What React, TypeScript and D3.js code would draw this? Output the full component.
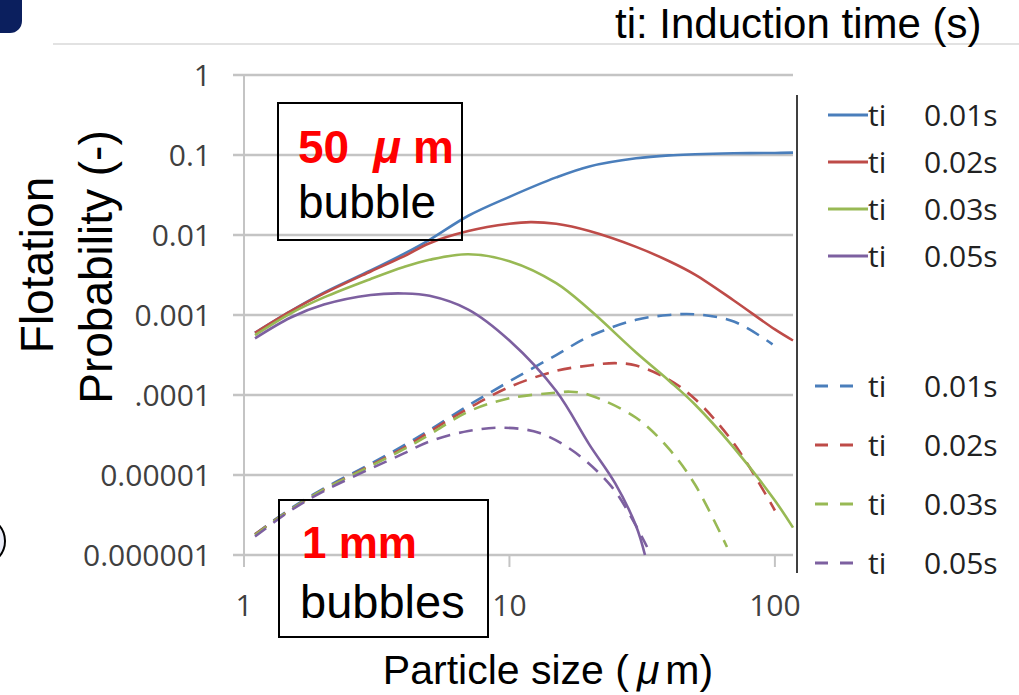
import React from "react";
import * as d3 from "d3";

type Pt = [number, number];

// particle size (um) -> flotation probability (-)
// 50 um bubble, solid lines
const bubble50_ti001: Pt[] = [[1.1, 0.0006], [1.5, 0.00112], [2, 0.0019], [3, 0.0036], [4, 0.0058], [5, 0.0087], [7, 0.0174], [10, 0.030], [15, 0.0525], [20, 0.072], [30, 0.091], [40, 0.099], [50, 0.102], [70, 0.105], [100, 0.106], [117, 0.107]];
const bubble50_ti002: Pt[] = [[1.1, 0.0006], [1.5, 0.00112], [2, 0.00186], [3, 0.0035], [4, 0.0054], [5, 0.0079], [7, 0.0112], [10, 0.0138], [12, 0.0145], [15, 0.0138], [20, 0.0112], [30, 0.0071], [40, 0.0047], [50, 0.0032], [70, 0.00152], [100, 0.00066], [117, 0.00048]];
const bubble50_ti003: Pt[] = [[1.1, 0.00056], [1.5, 0.00105], [2, 0.00166], [3, 0.00282], [4, 0.00398], [5, 0.0049], [7, 0.00575], [10, 0.0047], [15, 0.0025], [20, 0.00117], [30, 0.00034], [40, 0.00015], [50, 0.000076], [70, 0.000022], [100, 0.0000048], [117, 0.0000022]];
const bubble50_ti005: Pt[] = [[1.1, 0.00051], [1.5, 0.00093], [2, 0.00135], [3, 0.00178], [4, 0.00186], [5, 0.00174], [7, 0.00117], [10, 0.00048], [15, 0.000112], [20, 0.000024], [25, 0.0000079], [30, 0.0000023], [32.4, 0.000001]];

// 1 mm bubbles, dashed lines
const bubble1mm_ti001: Pt[] = [[1.1, 0.00000182], [1.5, 0.0000038], [2, 0.0000068], [3, 0.0000138], [4, 0.0000234], [5, 0.0000363], [7, 0.000074], [10, 0.000148], [15, 0.000316], [20, 0.00054], [30, 0.00087], [40, 0.001], [50, 0.00102], [70, 0.00083], [98, 0.00043]];
const bubble1mm_ti002: Pt[] = [[1.1, 0.00000182], [1.5, 0.0000037], [2, 0.0000066], [3, 0.0000132], [4, 0.0000219], [5, 0.0000347], [7, 0.000068], [10, 0.000126], [15, 0.0002], [20, 0.000234], [25, 0.00025], [30, 0.000234], [40, 0.000155], [50, 0.000089], [70, 0.000025], [100, 0.0000036]];
const bubble1mm_ti003: Pt[] = [[1.1, 0.00000178], [1.5, 0.0000037], [2, 0.0000066], [3, 0.0000129], [4, 0.000021], [5, 0.000032], [7, 0.000062], [10, 0.000091], [15, 0.000107], [17, 0.00011], [20, 0.0001], [30, 0.000052], [40, 0.000021], [50, 0.0000076], [66, 0.00000126]];
const bubble1mm_ti005: Pt[] = [[1.1, 0.0000017], [1.5, 0.0000036], [2, 0.0000063], [3, 0.000012], [4, 0.0000186], [5, 0.0000263], [7, 0.0000355], [9.5, 0.000039], [13, 0.0000335], [17.8, 0.0000188], [24.3, 0.0000071], [28.7, 0.000003], [33, 0.00000126]];

const solidSeries = [bubble50_ti001, bubble50_ti002, bubble50_ti003, bubble50_ti005];
const dashedSeries = [bubble1mm_ti001, bubble1mm_ti002, bubble1mm_ti003, bubble1mm_ti005];
const inductionTimes = ["0.01s", "0.02s", "0.03s", "0.05s"];
const seriesColors = ["#4a7ebb", "#be4b48", "#98b954", "#7d60a0"];

const yTicks = [1e-6, 1e-5, 1e-4, 1e-3, 1e-2, 1e-1, 1];
const yTickLabels = ["0.000001", "0.00001", "0.0001", "0.001", "0.01", "0.1", "1"];
const xTicks = [1, 10, 100];
const xTickLabels = ["1", "10", "100"];

const W = 1019;
const H = 695;
const tickFont = "'Open Sans', 'Liberation Sans', sans-serif";
const textFont = "'Liberation Sans', Arial, sans-serif";

export default function App() {
  const x = d3.scaleLog().domain([1, 117]).range([244, 793]);
  const y = d3.scaleLog().domain([1e-6, 1]).range([555, 75]);
  const line = d3
    .line<Pt>()
    .x((d) => x(d[0]))
    .y((d) => y(d[1]))
    .curve(d3.curveCatmullRom.alpha(0.5));

  const [x0, x1] = x.range();
  const [yBottom, yTop] = y.range();

  return (
    <svg width={W} height={H} style={{ position: "absolute", left: 0, top: 0, background: "#fff" }}>
      {/* slide decorations */}
      <line x1={53} x2={W} y1={44} y2={44} stroke="#e2e2e2" strokeWidth={2} />
      <path d="M0,0 H22 V21 A12,12 0 0 1 10,33 H0 Z" fill="#0b1f5e" />
      <circle cx={-19} cy={541} r={24} fill="#e9ecf8" stroke="#000" strokeWidth={2} />

      <text x={615} y={38} fontFamily={textFont} fontSize={42} fill="#000">
        ti: Induction time (s)
      </text>

      {/* grid */}
      {yTicks.map((t) => (
        <line key={"g" + t} x1={x0 - 11} x2={x1} y1={y(t)} y2={y(t)} stroke="#c4c4c4" strokeWidth={2.5} />
      ))}
      <line x1={x0} x2={x0} y1={yTop} y2={yBottom + 12} stroke="#c4c4c4" strokeWidth={2} />
      {xTicks.map((t) => (
        <line key={"xt" + t} x1={x(t)} x2={x(t)} y1={yBottom} y2={yBottom + 12} stroke="#c4c4c4" strokeWidth={2} />
      ))}

      {/* curves */}
      {dashedSeries.map((s, i) => (
        <path key={"d" + i} d={line(s) || ""} fill="none" stroke={seriesColors[i]} strokeWidth={2.6} strokeDasharray="14,9" />
      ))}
      {solidSeries.map((s, i) => (
        <path key={"s" + i} d={line(s) || ""} fill="none" stroke={seriesColors[i]} strokeWidth={2.6} />
      ))}

      {/* tick labels */}
      {yTicks.map((t, i) => (
        <text key={"yl" + t} x={211} y={y(t)} dy="0.35em" textAnchor="end" fontFamily={tickFont} fontSize={30} fill="#404040">
          {yTickLabels[i]}
        </text>
      ))}
      {xTicks.map((t, i) => (
        <text key={"xl" + t} x={x(t)} y={616} textAnchor="middle" fontFamily={tickFont} fontSize={30} fill="#404040">
          {xTickLabels[i]}
        </text>
      ))}

      {/* y title */}
      <rect x={8} y={120} width={126} height={290} fill="#fff" />
      <text transform="translate(53,265) rotate(-90)" textAnchor="middle" fontFamily={textFont} fontSize={46} fill="#000">
        Flotation
      </text>
      <text transform="translate(112,267) rotate(-90)" textAnchor="middle" fontFamily={textFont} fontSize={46} fill="#000">
        Probability (-)
      </text>

      {/* x title */}
      <text x={548} y={684} textAnchor="middle" fontFamily={textFont} fontSize={41} fill="#000">
        Particle size (<tspan fontStyle="italic" dx={8}>μ</tspan><tspan dx={6}>m)</tspan>
      </text>

      {/* annotation boxes */}
      <rect x={278} y={103} width={184} height={137} fill="none" stroke="#000" strokeWidth={2} />
      <text x={298} y={163} fontFamily={textFont} fontSize={46} fontWeight="bold" fill="#ff0000">
        50<tspan fontStyle="italic" dx={24}>μ</tspan><tspan dx={12}>m</tspan>
      </text>
      <text x={298} y={218} fontFamily={textFont} fontSize={46} fill="#000">
        bubble
      </text>

      <rect x={279} y={500} width={209} height={137} fill="none" stroke="#000" strokeWidth={2} />
      <text x={302} y={558} fontFamily={textFont} fontSize={44} fontWeight="bold" fill="#ff0000">
        1 mm
      </text>
      <text x={300} y={618} fontFamily={textFont} fontSize={47} fill="#000">
        bubbles
      </text>

      {/* legend */}
      <line x1={797} x2={797} y1={95} y2={573} stroke="#404040" strokeWidth={2} />
      {inductionTimes.map((lab, i) => {
        const ly = 115 + i * 47;
        return (
          <g key={"ls" + i}>
            <line x1={828} x2={868} y1={ly} y2={ly} stroke={seriesColors[i]} strokeWidth={3} />
            <text x={868} y={ly} dy="0.35em" fontFamily={tickFont} fontSize={30} fill="#222">ti</text>
            <text x={924} y={ly} dy="0.35em" fontFamily={tickFont} fontSize={30} fill="#222">{lab}</text>
          </g>
        );
      })}
      {inductionTimes.map((lab, i) => {
        const ly = 386 + i * 59;
        return (
          <g key={"ld" + i}>
            <line x1={815} x2={856} y1={ly} y2={ly} stroke={seriesColors[i]} strokeWidth={3} strokeDasharray="13,12" />
            <text x={868} y={ly} dy="0.35em" fontFamily={tickFont} fontSize={30} fill="#222">ti</text>
            <text x={924} y={ly} dy="0.35em" fontFamily={tickFont} fontSize={30} fill="#222">{lab}</text>
          </g>
        );
      })}
    </svg>
  );
}
